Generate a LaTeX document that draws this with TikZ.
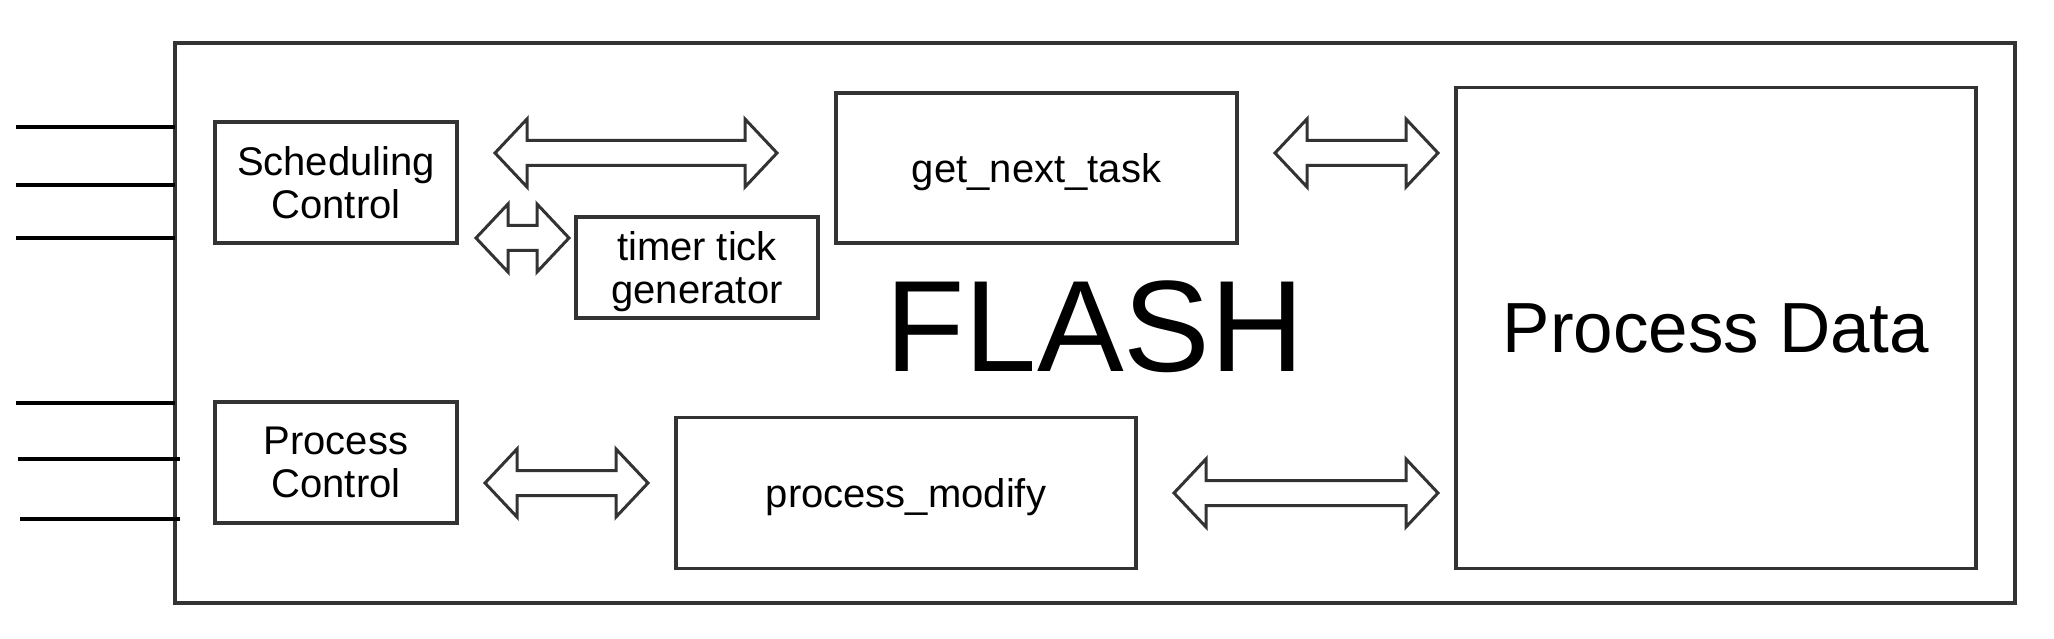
\documentclass[tikz,border=0pt]{standalone}
\usepackage{fontspec}
\setmainfont{Liberation Sans}
\definecolor{edge}{HTML}{333333}
\tikzset{
  box/.style={draw=edge, line width=3.2pt, inner sep=0pt, align=center, text depth=0pt, font=\fontsize{40}{43}\selectfont},
  blockarrow/.style={draw=edge, line width=3pt, line join=miter, fill=white},
  pin/.style={draw=black, line width=3.2pt}
}
\newcommand{\dblarrow}[3]{%
  \draw[blockarrow] (#1,#3) -- (#1+32,#3-34) -- (#1+32,#3-12.5) -- (#2-32,#3-12.5) -- (#2-32,#3-34)
    -- (#2,#3) -- (#2-32,#3+34) -- (#2-32,#3+12.5) -- (#1+32,#3+12.5) -- (#1+32,#3+34) -- cycle;}
\begin{document}
\begin{tikzpicture}[x=1pt,y=-1pt]
\useasboundingbox (0,0) rectangle (2054,639);
% outer FLASH box
\node[box, minimum width=1840pt, minimum height=560pt] (outer) at (1095,323) {};
% left pins
\coordinate (p1a) at (16,127);  \coordinate (p1b) at (175,127);
\coordinate (p2a) at (16,185);  \coordinate (p2b) at (175,185);
\coordinate (p3a) at (16,238);  \coordinate (p3b) at (175,238);
\coordinate (p4a) at (16,403);  \coordinate (p4b) at (175,403);
\coordinate (p5a) at (18,459);  \coordinate (p5b) at (180,459);
\coordinate (p6a) at (20,519);  \coordinate (p6b) at (180,519);
\draw[pin] (p1a) -- (p1b);
\draw[pin] (p2a) -- (p2b);
\draw[pin] (p3a) -- (p3b);
\draw[pin] (p4a) -- (p4b);
\draw[pin] (p5a) -- (p5b);
\draw[pin] (p6a) -- (p6b);
% boxes
\node[box, minimum width=242pt, minimum height=121pt] (sched) at (336,182.5) {Scheduling\\Control};
\node[box, minimum width=242pt, minimum height=101pt] (timer) at (697,267.5) {timer tick\\generator};
\node[box, minimum width=401pt, minimum height=150pt] (getnext) at (1036.5,168) {get\_next\_task};
\node[box, minimum width=520pt, minimum height=481pt, font=\fontsize{71}{76}\selectfont] (pdata) at (1716,328) {Process Data};
\node[box, minimum width=242pt, minimum height=121pt] (pctl) at (336,462.5) {Process\\Control};
\node[box, minimum width=460pt, minimum height=151pt] (pmod) at (906,493) {process\_modify};
% title
\node[anchor=base, inner sep=0pt, font=\fontsize{130}{130}\selectfont] (flash) at (1095,371) {FLASH};
% block arrows
\dblarrow{495}{777}{153}
\dblarrow{476}{569}{238}
\dblarrow{1275}{1438}{153}
\dblarrow{485}{648}{483}
\dblarrow{1174}{1438}{493}
\end{tikzpicture}
\end{document}
